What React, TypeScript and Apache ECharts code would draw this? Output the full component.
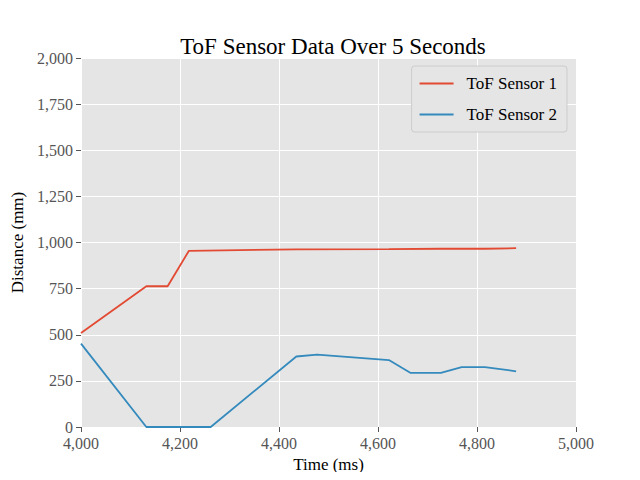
import * as echarts from 'echarts';
import { useEffect, useRef } from 'react';

const sensor1Times = [4000, 4132, 4175, 4218, 4435, 4622, 4727, 4816, 4879];
const sensor1Values = [510, 763, 763, 955, 963, 964, 966, 966, 969];
const sensor2Times = [4000, 4132, 4262, 4435, 4477, 4622, 4666, 4727, 4769, 4816, 4879];
const sensor2Values = [452, 0, 0, 382, 392, 363, 293, 293, 325, 325, 302];
const seriesNames = ['ToF Sensor 1', 'ToF Sensor 2'];

const font = '"Liberation Serif", "DejaVu Serif", serif';

export default function App() {
  const container = useRef<HTMLDivElement>(null);

  useEffect(() => {
    const element = container.current;
    if (!element) return undefined;
    const chart = echarts.init(element, undefined, { renderer: 'svg' });
    const axisCommon = {
      axisLine: { show: false },
      axisTick: { show: true, length: 5, lineStyle: { color: '#555555' } },
      axisLabel: { color: '#555555', fontSize: 16, fontFamily: font },
      splitLine: { show: true, lineStyle: { color: '#ffffff', width: 1 } },
      nameTextStyle: { color: '#000000', fontSize: 17, fontFamily: font },
    };
    chart.setOption({
      animation: false,
      backgroundColor: '#ffffff',
      title: {
        text: 'ToF Sensor Data Over 5 Seconds',
        left: 328,
        top: 30,
        textAlign: 'center',
        textStyle: { fontFamily: font, fontSize: 23, fontWeight: 'normal', color: '#000000' },
      },
      legend: {
        orient: 'vertical',
        right: 73,
        top: 66,
        padding: [9, 10, 9, 8],
        backgroundColor: '#e5e5e5',
        borderColor: '#cccccc',
        borderWidth: 1,
        borderRadius: 3,
        itemWidth: 34,
        itemHeight: 2,
        itemGap: 14,
        icon: 'rect',
        textStyle: { fontFamily: font, fontSize: 17, color: '#000000', padding: [0, 0, 0, 8] },
        data: seriesNames,
      },
      grid: { left: 81, right: 64, top: 58, bottom: 53, show: true, backgroundColor: '#e5e5e5', borderWidth: 0 },
      xAxis: {
        type: 'value',
        min: 4000,
        max: 5000,
        interval: 200,
        name: 'Time (ms)',
        nameLocation: 'middle',
        nameGap: 28,
        ...axisCommon,
      },
      yAxis: {
        type: 'value',
        min: 0,
        max: 2000,
        interval: 250,
        name: 'Distance (mm)',
        nameLocation: 'middle',
        nameGap: 52,
        ...axisCommon,
      },
      series: [
        {
          name: seriesNames[0],
          type: 'line',
          symbol: 'none',
          color: '#E24A33',
          lineStyle: { width: 1.8 },
          data: sensor1Times.map((t, i) => [t, sensor1Values[i]]),
        },
        {
          name: seriesNames[1],
          type: 'line',
          symbol: 'none',
          color: '#348ABD',
          lineStyle: { width: 1.8 },
          data: sensor2Times.map((t, i) => [t, sensor2Values[i]]),
        },
      ],
    });
    return () => chart.dispose();
  }, []);

  return <div ref={container} style={{ width: 640, height: 480, margin: -8 }} />;
}
